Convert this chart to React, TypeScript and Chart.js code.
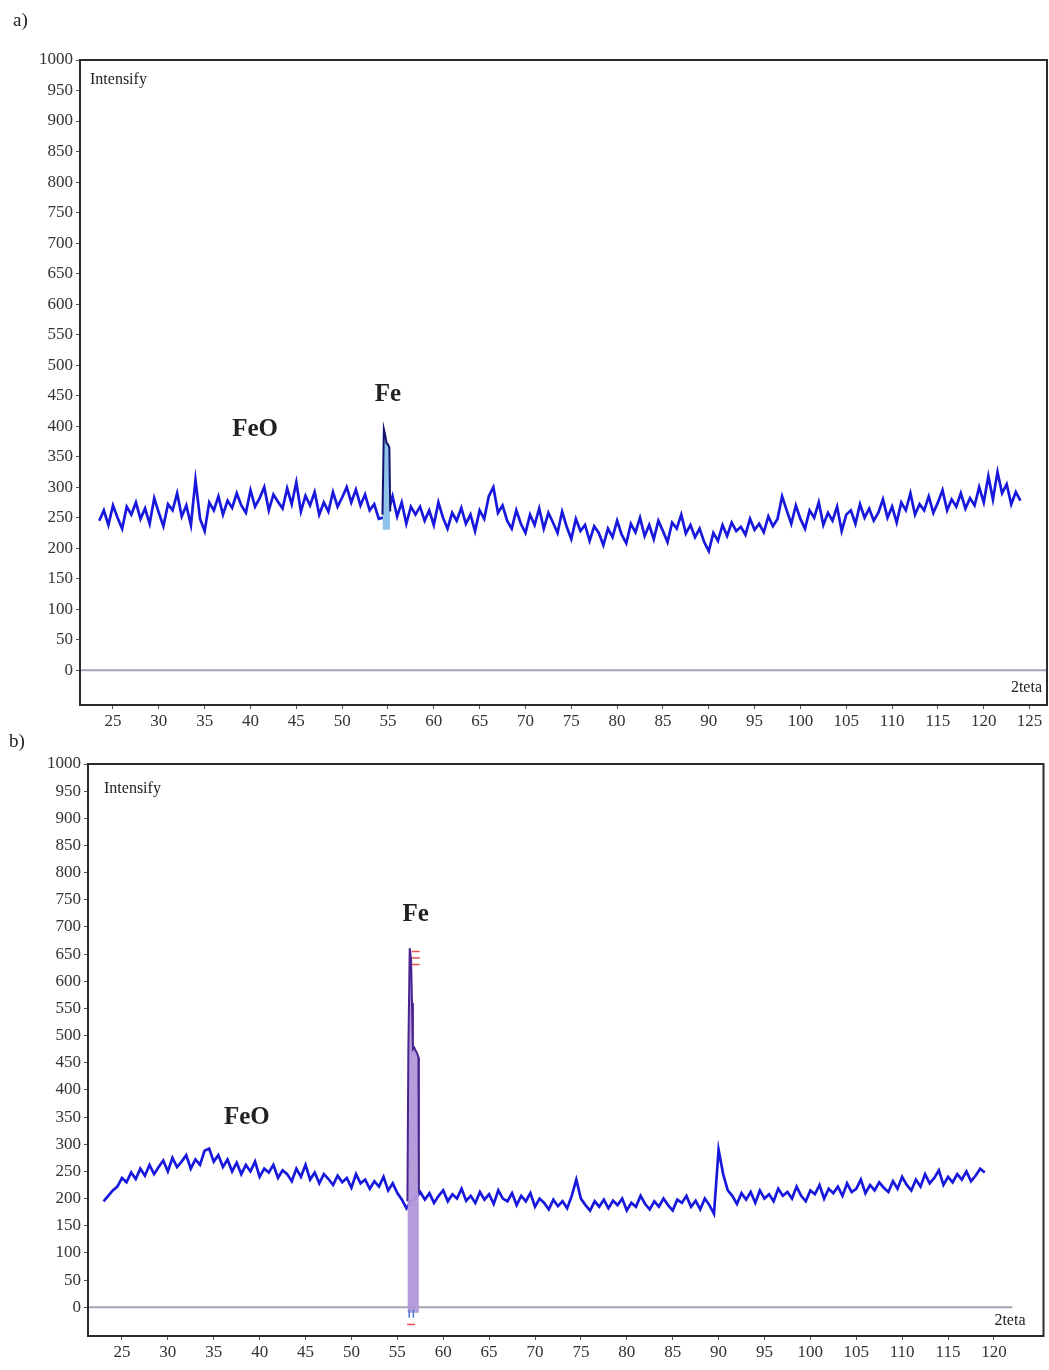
import React, { useEffect, useRef } from 'react';
import { Chart, registerables } from 'chart.js';
Chart.register(...registerables);

// ---------- shared ----------
const yTicks = [0, 50, 100, 150, 200, 250, 300, 350, 400, 450, 500, 550, 600, 650, 700, 750, 800, 850, 900, 950, 1000];
const xTicksA = [25, 30, 35, 40, 45, 50, 55, 60, 65, 70, 75, 80, 85, 90, 95, 100, 105, 110, 115, 120, 125];
const xTicksB = [25, 30, 35, 40, 45, 50, 55, 60, 65, 70, 75, 80, 85, 90, 95, 100, 105, 110, 115, 120];

// ---------- panel a ----------
const scanAStart = 23.5;
const scanAStep = 0.5;
const scanA = [
  245, 262, 238, 270, 250, 232, 268, 255, 275, 248,
  265, 240, 282, 258, 236, 272, 262, 290, 252, 270,
  238, 312, 248, 228, 275, 262, 285, 255, 278, 266,
  290, 270, 258, 295, 268, 282, 300, 262, 288, 276,
  265, 298, 272, 308, 260, 286, 270, 292, 255, 275,
  260, 292, 268, 283, 300, 275, 296, 270, 288, 262,
  272, 248, 250, 258, 285, 252, 275, 240, 268, 255,
  268, 245, 262, 238, 275, 250, 232, 258, 245, 266,
  240, 255, 228, 262, 248, 285, 300, 258, 270, 245,
  232, 262, 240, 225, 255, 238, 265, 232, 258, 242,
  225, 260, 235, 215, 248, 228, 238, 212, 236, 225,
  205, 232, 218, 245, 222, 208, 240, 226, 250, 220,
  238, 215, 245, 228, 210, 242, 232, 255, 224, 238,
  218, 232, 210, 195, 225, 212, 238, 220, 242, 228,
  235, 222, 248, 230, 240, 226, 252, 236, 248, 285,
  262, 240, 270, 248, 232, 262, 250, 275, 238, 258,
  245, 268, 228, 255, 262, 240, 272, 250, 265, 245,
  258, 280, 250, 268, 242, 275, 262, 290, 255, 272,
  262, 285, 258, 275, 295, 262, 280, 268, 290, 265,
  282, 270, 300, 275, 318, 280, 325, 290, 305, 272,
  292, 278,
];
const peakAX = [54.4, 54.55, 54.7, 54.85, 55.0, 55.15, 55.25];
const peakAY = [255, 395, 385, 372, 370, 365, 260];
const zeroLineAX = [21.4, 126.9];

// ---------- panel b ----------
const scanBStart = 23.0;
const scanBStep = 0.5;
const scanB = [
  195, 205, 215, 222, 238, 230, 248, 236, 255, 242,
  262, 245, 258, 270, 250, 275, 258, 268, 280, 255,
  272, 262, 288, 292, 268, 280, 258, 272, 250, 266,
  245, 262, 250, 268, 240, 255, 248, 262, 238, 252,
  245, 232, 255, 240, 262, 235, 248, 228, 245, 236,
  225, 242, 230, 238, 220, 245, 228, 235, 218, 232,
  222, 240, 215, 228, 210, 198, 182, 195, 200, 212,
  198, 210, 192, 205, 215, 195, 208, 200, 218, 196,
  205, 192, 212, 198, 208, 190, 215, 200, 195, 210,
  188, 205, 195, 210, 185, 200, 192, 180, 198, 186,
  195, 182, 205, 235, 200, 188, 178, 195, 185, 198,
  182, 196, 188, 200, 178, 192, 185, 205, 190, 180,
  195, 185, 200, 188, 178, 198, 192, 205, 185, 196,
  180, 200, 188, 172, 290, 245, 215, 205, 190, 210,
  198, 212, 192, 215, 200, 208, 195, 218, 205, 212,
  200, 222, 205, 195, 215, 208, 225, 200, 218, 210,
  222, 205, 228, 212, 218, 235, 210, 225, 215, 230,
  220, 212, 232, 218, 240, 225, 215, 235, 222, 245,
  228, 238, 252, 225, 240, 230, 245, 235, 250, 232,
  242, 255, 248,
];
const peakBX = [56.1, 56.2, 56.35, 56.5, 56.6, 56.7, 56.85, 57.0, 57.15, 57.3, 57.35];
const peakBY = [195, 470, 661, 640, 560, 475, 478, 472, 468, 460, 210];
const refRedX = [57.0, 57.0, 57.0, 56.5];
const refRedY = [655, 643, 631, -32];
const refBlueX = [56.3, 56.75];
const refBlueY = [-12, -12];
const zeroLineBX = [21.3, 122.0];

const SERIF = "'Liberation Serif', 'DejaVu Serif', serif";

type TextItem = {
  text: string;
  font: string;
  align: CanvasTextAlign;
  pos: (c: any) => [number, number];
};

function textPlugin(items: TextItem[]) {
  return {
    id: 'texts',
    afterDraw(chart: any) {
      const ctx = chart.ctx;
      ctx.save();
      ctx.fillStyle = '#222';
      ctx.textBaseline = 'middle';
      for (const it of items) {
        ctx.font = it.font;
        ctx.textAlign = it.align;
        const [x, y] = it.pos(chart);
        ctx.fillText(it.text, x, y);
      }
      ctx.restore();
    },
  };
}

const framePlugin = {
  id: 'frame',
  afterDatasetsDraw(chart: any) {
    const { left, top, right, bottom } = chart.chartArea;
    const ctx = chart.ctx;
    ctx.save();
    ctx.strokeStyle = '#2b2b2b';
    ctx.lineWidth = 2;
    ctx.strokeRect(left, top, right - left, bottom - top);
    ctx.restore();
  },
};

function buildChart(
  canvas: HTMLCanvasElement,
  opts: {
    scanStart: number; scanStep: number; scan: number[];
    peakX: number[]; peakY: number[]; peakFill: any; peakColor: string; peakLine: string;
    zeroX: number[]; xMin: number; xMax: number; yMin: number; xTicks: number[];
    padTop: number; yWidth: number; xHeight: number; texts: TextItem[];
    extra: any[];
  }
) {
  const scanPts = opts.scan.map((v, i) => ({ x: opts.scanStart + i * opts.scanStep, y: v }));
  const peakPts = opts.peakX.map((x, i) => ({ x, y: opts.peakY[i] }));
  const zeroPts = opts.zeroX.map((x) => ({ x, y: 0 }));
  return new Chart(canvas, {
    type: 'line',
    data: {
      datasets: [
        { data: zeroPts, borderColor: '#a3a3b3', borderWidth: 2, pointRadius: 0, order: 5 },
        { data: scanPts, borderColor: '#1818dc', borderWidth: 2.7, pointRadius: 0, tension: 0, order: 3 },
        {
          data: peakPts, borderColor: opts.peakLine, borderWidth: 2, pointRadius: 0,
          fill: opts.peakFill, backgroundColor: opts.peakColor, order: 2,
        },
        ...opts.extra,
      ],
    },
    options: {
      responsive: false,
      animation: false,
      layout: { padding: { top: opts.padTop, right: 2, left: 0, bottom: 0 } },
      plugins: { legend: { display: false }, tooltip: { enabled: false } },
      scales: {
        x: {
          type: 'linear', min: opts.xMin, max: opts.xMax,
          afterBuildTicks: (s: any) => { s.ticks = opts.xTicks.map((v) => ({ value: v })); },
          afterFit: (s: any) => { s.height = opts.xHeight; },
          grid: { display: true, drawOnChartArea: false, drawTicks: true, tickLength: 4, color: '#555' },
          border: { display: false },
          ticks: {
            autoSkip: false, maxRotation: 0, padding: 2, color: '#333',
            font: { family: SERIF, size: 17 },
            callback: (v: any) => String(v),
          },
        },
        y: {
          type: 'linear', min: opts.yMin, max: 1000,
          afterBuildTicks: (s: any) => { s.ticks = yTicks.map((v) => ({ value: v })); },
          afterFit: (s: any) => { s.width = opts.yWidth; },
          grid: { display: true, drawOnChartArea: false, drawTicks: true, tickLength: 4, color: '#555' },
          border: { display: false },
          ticks: {
            autoSkip: false, padding: 3, color: '#333',
            font: { family: SERIF, size: 17 },
            callback: (v: any) => String(v),
          },
        },
      },
    } as any,
    plugins: [framePlugin, textPlugin(opts.texts)],
  });
}

export default function App() {
  const refA = useRef<HTMLCanvasElement>(null);
  const refB = useRef<HTMLCanvasElement>(null);

  useEffect(() => {
    const bold = `bold 25px ${SERIF}`;
    const small = `16px ${SERIF}`;
    const lab = `19px ${SERIF}`;
    const chartA = buildChart(refA.current!, {
      scanStart: scanAStart, scanStep: scanAStep, scan: scanA,
      peakX: peakAX, peakY: peakAY, peakFill: { value: 230 }, peakColor: '#8fc3ea', peakLine: '#121270',
      zeroX: zeroLineAX, xMin: 21.4, xMax: 126.9, yMin: -57, xTicks: xTicksA,
      padTop: 60, yWidth: 80, xHeight: 35,
      extra: [],
      texts: [
        { text: 'a)', font: lab, align: 'left', pos: () => [13, 21] },
        { text: 'Intensify', font: small, align: 'left', pos: (c) => [c.chartArea.left + 10, c.chartArea.top + 20] },
        { text: '2teta', font: small, align: 'right', pos: (c) => [c.chartArea.right - 5, c.chartArea.bottom - 17] },
        { text: 'FeO', font: bold, align: 'center', pos: (c) => [c.scales.x.getPixelForValue(40.5), c.scales.y.getPixelForValue(394)] },
        { text: 'Fe', font: bold, align: 'center', pos: (c) => [c.scales.x.getPixelForValue(55), c.scales.y.getPixelForValue(451)] },
      ],
    });
    const chartB = buildChart(refB.current!, {
      scanStart: scanBStart, scanStep: scanBStep, scan: scanB,
      peakX: peakBX, peakY: peakBY, peakFill: { value: -10 }, peakColor: 'rgba(176,152,216,0.95)', peakLine: '#4a2490',
      zeroX: zeroLineBX, xMin: 21.3, xMax: 125.4, yMin: -53, xTicks: xTicksB,
      padTop: 39, yWidth: 88, xHeight: 34,
      extra: [
        { data: refRedX.map((x, i) => ({ x, y: refRedY[i] })), showLine: false, pointStyle: 'line', pointRadius: 4, borderColor: '#e05050', borderWidth: 1.5, order: 1 },
        { data: refBlueX.map((x, i) => ({ x, y: refBlueY[i] })), showLine: false, pointStyle: 'line', pointRadius: 4, rotation: 90, borderColor: '#5577dd', borderWidth: 1.5, order: 1 },
      ],
      texts: [
        { text: 'b)', font: lab, align: 'left', pos: () => [9, 17] },
        { text: 'Intensify', font: small, align: 'left', pos: (c) => [c.chartArea.left + 16, c.chartArea.top + 25] },
        { text: '2teta', font: small, align: 'right', pos: (c) => [c.chartArea.right - 18, c.chartArea.bottom - 15] },
        { text: 'FeO', font: bold, align: 'center', pos: (c) => [c.scales.x.getPixelForValue(38.6), c.scales.y.getPixelForValue(350)] },
        { text: 'Fe', font: bold, align: 'center', pos: (c) => [c.scales.x.getPixelForValue(57), c.scales.y.getPixelForValue(722)] },
      ],
    });
    return () => { chartA.destroy(); chartB.destroy(); };
  }, []);

  return (
    <div style={{ position: 'absolute', left: 0, top: 0, width: 1049, height: 1370, background: '#fff' }}>
      <canvas ref={refA} width={1049} height={740} style={{ position: 'absolute', left: 0, top: 0 }} />
      <canvas ref={refB} width={1049} height={645} style={{ position: 'absolute', left: 0, top: 725 }} />
    </div>
  );
}
